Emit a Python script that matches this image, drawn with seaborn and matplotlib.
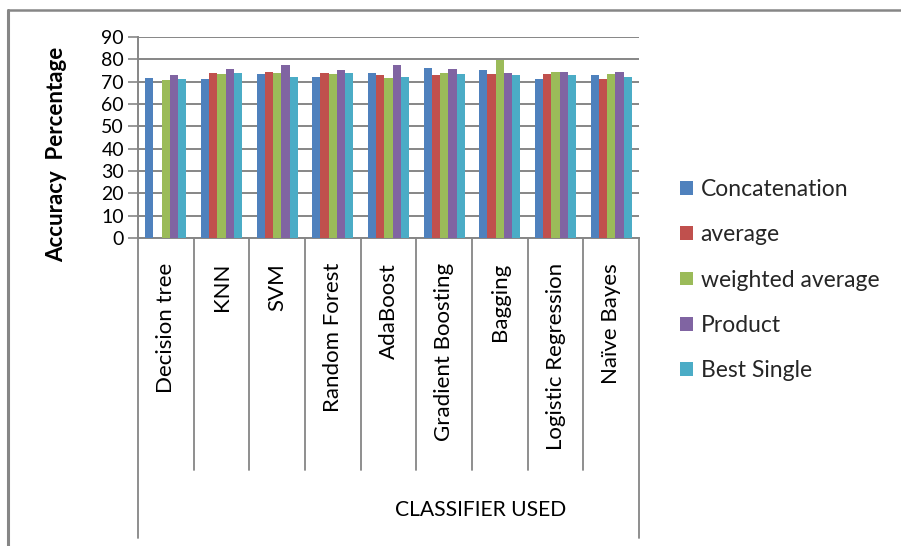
import numpy as np
import pandas as pd
import matplotlib
matplotlib.use("Agg")
import matplotlib.pyplot as plt
from matplotlib.patches import Patch
from matplotlib.lines import Line2D
import seaborn as sns

classifiers = ["Decision tree", "KNN", "SVM", "Random Forest", "AdaBoost",
               "Gradient Boosting", "Bagging", "Logistic Regression", "Naïve Bayes"]
series = ["Concatenation", "average", "weighted average", "Product", "Best Single"]

concatenation = [71.8, 71.3, 73.6, 72.2, 74.0, 76.3, 75.4, 71.3, 73.1]
average = [np.nan, 74.0, 74.5, 74.0, 73.1, 73.1, 73.6, 73.6, 71.3]
weighted_average = [70.9, 73.6, 74.0, 73.6, 71.8, 74.0, 79.6, 74.5, 73.6]
product = [73.1, 75.8, 77.6, 75.4, 77.6, 75.8, 74.0, 74.5, 74.5]
best_single = [71.3, 74.0, 72.2, 74.0, 72.2, 73.6, 73.1, 73.1, 72.2]

y_ticks = [0, 10, 20, 30, 40, 50, 60, 70, 80, 90]
colors = ["#4F81BD", "#C0504D", "#9BBB59", "#8064A2", "#4BACC6"]

values = [concatenation, average, weighted_average, product, best_single]
df = pd.DataFrame({
    "Classifier": np.tile(classifiers, len(series)),
    "Method": np.repeat(series, len(classifiers)),
    "Accuracy": np.concatenate(values),
})

sns.set_theme(style="white")
plt.rcParams["font.family"] = ["Lato", "DejaVu Sans"]

W, H = 901, 546
fig = plt.figure(figsize=(W / 100, H / 100), dpi=100)
fig.patch.set_facecolor("white")

# plot area in pixel coordinates
x0, x1, ytop, ybot = 138, 639, 37, 238
ax = fig.add_axes([x0 / W, 1 - ybot / H, (x1 - x0) / W, (ybot - ytop) / H])

grey = "#868686"
sns.barplot(data=df, x="Classifier", y="Accuracy", hue="Method",
            order=classifiers, hue_order=series, palette=colors,
            width=0.74, errorbar=None, saturation=1, linewidth=0,
            legend=False, ax=ax, zorder=3)

ax.set_xlim(-0.5, len(classifiers) - 0.5)
ax.set_ylim(0, 90)
ax.set_yticks(y_ticks)
ax.set_yticklabels([str(t) for t in y_ticks], fontsize=14, color="#000000")
ax.set_xticks([])
ax.set_xlabel("")
ax.set_ylabel("")
ax.yaxis.grid(True, color=grey, linewidth=1.4, zorder=0)
ax.set_axisbelow(True)
ax.tick_params(axis="y", direction="out", length=7, width=1.2, color=grey, pad=3, left=True)
for s in ["top", "right"]:
    ax.spines[s].set_visible(False)
for s in ["left", "bottom"]:
    ax.spines[s].set_color(grey)
    ax.spines[s].set_linewidth(1.4)

# category dividers below the axis
trans = ax.get_xaxis_transform()
inner_depth = -(470 - ybot) / (ybot - ytop)
outer_depth = -(538 - ybot) / (ybot - ytop)
n = len(classifiers)
for k in range(n + 1):
    xb = k - 0.5
    yb = outer_depth if k in (0, n) else inner_depth
    ax.add_line(Line2D([xb, xb], [0, yb], transform=trans, color=grey,
                       linewidth=1.3, clip_on=False))

# rotated category labels
label_top = -(263 - ybot) / (ybot - ytop)
for i, name in enumerate(classifiers):
    ax.text(i, label_top, name, transform=trans, rotation=90,
            ha="center", va="top", fontsize=16, color="#000000")

fig.text(481 / W, 1 - 510 / H, "CLASSIFIER USED", ha="center", va="center",
         fontsize=15.2, color="#000000")
fig.text(57 / W, 1 - 154 / H, "Accuracy  Percentage", rotation=90,
         ha="center", va="center", fontsize=16, fontweight="bold", color="#000000")

# legend
handles = [Patch(facecolor=c, edgecolor="none") for c in colors]
fig.legend(handles, series, loc="upper left", bbox_to_anchor=(680 / W, 1 - 179 / H),
           frameon=False, fontsize=16.5, handlelength=0.55, handleheight=0.55,
           handletextpad=0.35, labelspacing=1.06, borderaxespad=0, borderpad=0)

# outer chart frame
fig.add_artist(Line2D([8 / W, 8 / W], [0, 1 - 10 / H], transform=fig.transFigure,
                      color=grey, linewidth=2.2))
fig.add_artist(Line2D([8 / W, 1], [1 - 10 / H, 1 - 10 / H], transform=fig.transFigure,
                      color=grey, linewidth=1.8))

fig.savefig("out.png", dpi=100, facecolor="white")
